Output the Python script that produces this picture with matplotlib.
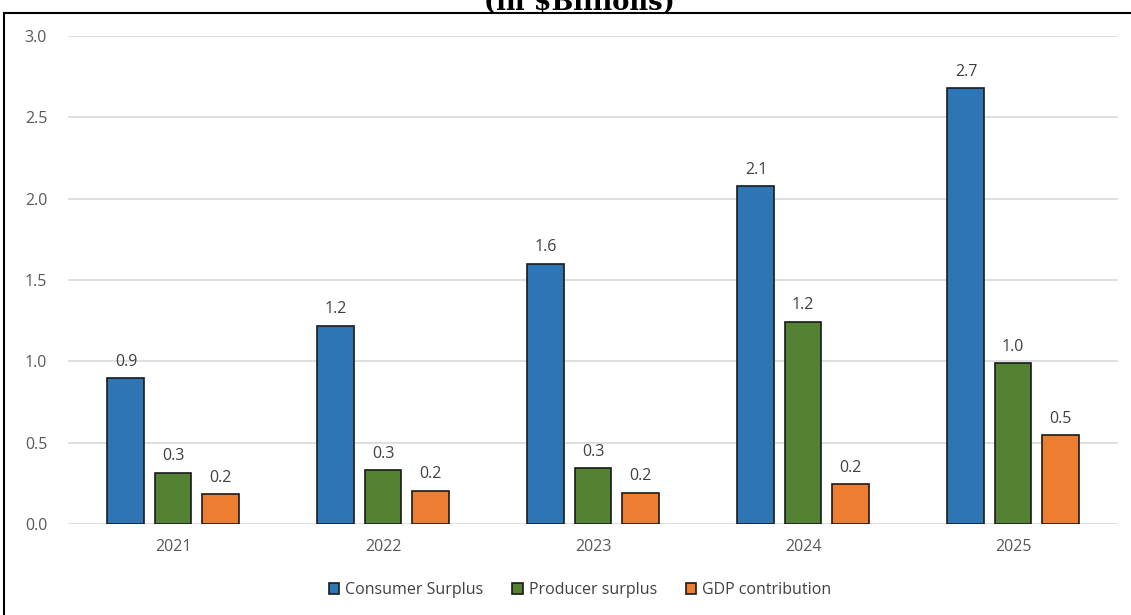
import matplotlib
matplotlib.use("Agg")
import matplotlib.pyplot as plt
from matplotlib.patches import Rectangle
import numpy as np

years = ["2021", "2022", "2023", "2024", "2025"]
series_names = ["Consumer Surplus", "Producer surplus", "GDP contribution"]
consumer = [0.897, 1.22, 1.60, 2.076, 2.68]
producer = [0.315, 0.33, 0.342, 1.243, 0.987]
gdp = [0.184, 0.205, 0.192, 0.244, 0.548]
colors = ["#2E75B6", "#548235", "#ED7D31"]
yticks = [0.0, 0.5, 1.0, 1.5, 2.0, 2.5, 3.0]
title = "(in $Billions)"

plt.rcParams['font.family'] = ['Open Sans', 'DejaVu Sans']

fig = plt.figure(figsize=(11.31, 6.15), dpi=100)
ax = fig.add_axes([68/1131, 1-524/615, (1118-68)/1131, (524-36)/615])

x = np.arange(len(years))
width = 0.176
offset = 0.224
for i, (vals, name, c) in enumerate(zip([consumer, producer, gdp], series_names, colors)):
    pos = x + (i - 1) * offset
    bars = ax.bar(pos, vals, width, color=c, edgecolor="#1a1a1a", linewidth=1.2,
                  label=name, zorder=3)
    for b, v in zip(bars, vals):
        ax.annotate(f"{v:.1f}", (b.get_x() + b.get_width()/2, v),
                    xytext=(0, 6), textcoords="offset points",
                    ha="center", va="bottom", fontsize=11.5, color="#404040")

ax.set_xlim(-0.5, 4.5)
ax.set_ylim(0, 3.0)
ax.set_yticks(yticks)
ax.set_yticklabels([f"{t:.1f}" for t in yticks])
ax.set_xticks(x)
ax.set_xticklabels(years)
ax.tick_params(axis="both", length=0, labelsize=11.5, labelcolor="#595959")
ax.tick_params(axis="y", pad=15)
ax.tick_params(axis="x", pad=11)
ax.yaxis.grid(True, color="#d9d9d9", linewidth=1.2, zorder=0)
for s in ax.spines.values():
    s.set_visible(False)

leg = fig.legend(loc="center", bbox_to_anchor=(580/1131, 1-590/615), ncol=3,
                 frameon=False, fontsize=11.5, handlelength=0.65, handleheight=0.7,
                 handletextpad=0.37, columnspacing=1.8)
for t in leg.get_texts():
    t.set_color("#404040")

fig.text(579/1131, 1-10/615, title, ha="center", va="baseline",
         fontsize=18.5, fontweight="bold", family="DejaVu Serif")

border = Rectangle((4/1131, -0.1), 1.2, 0.1 + 1 - 13/615,
                   transform=fig.transFigure, fill=False,
                   edgecolor="black", linewidth=1.5)
fig.patches.append(border)

fig.savefig("out.png", dpi=100)
